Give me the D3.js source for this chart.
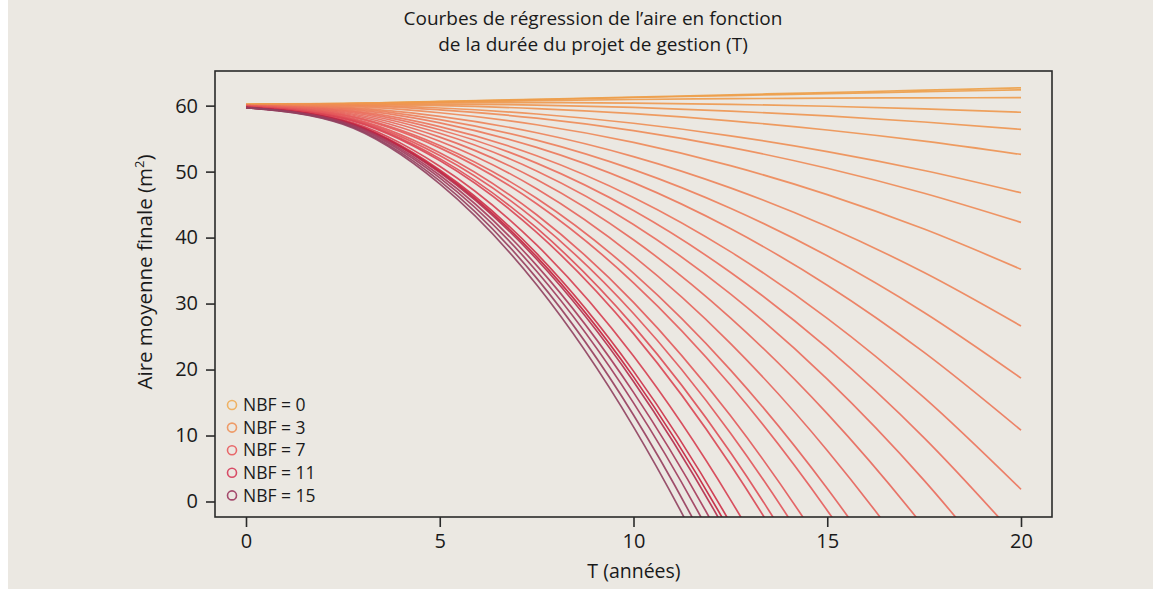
<!DOCTYPE html>
<html>
<head>
<meta charset="utf-8">
<script src="https://cdn.jsdelivr.net/npm/d3@7"></script>
<style>
  html, body { margin: 0; padding: 0; background: #ffffff; }
  svg { display: block; }
  text { font-family: "Open Sans", Lato, sans-serif; fill: #1a1a1a; }
</style>
</head>
<body>
<svg id="chart" width="1161" height="593"></svg>
<script>
// ---- data ----
const tGrid = [0, 2.5, 5, 7.5, 10, 12.5, 15, 17.5, 20];

// Aire moyenne finale (m²) read at each T of tGrid, one row per regression curve (top to bottom)
const curveValues = [
  [60.25, 60.32, 60.64, 60.97, 61.30, 61.64, 61.99, 62.34, 62.70],
  [60.2, 60.31, 60.62, 60.92, 61.23, 61.52, 61.82, 62.11, 62.40],
  [60.15, 60.29, 60.54, 60.75, 60.93, 61.05, 61.14, 61.19, 61.20],
  [60.1, 60.26, 60.41, 60.45, 60.38, 60.20, 59.91, 59.51, 59.00],
  [60.1, 60.22, 60.24, 60.08, 59.73, 59.18, 58.44, 57.52, 56.40],
  [60.05, 60.16, 60.01, 59.55, 58.78, 57.70, 56.31, 54.61, 52.60],
  [60.05, 60.07, 59.64, 58.73, 57.33, 55.43, 53.04, 50.17, 46.80],
  [60, 60.00, 59.36, 58.10, 56.20, 53.67, 50.51, 46.72, 42.30],
  [60, 59.89, 58.92, 57.10, 54.43, 50.90, 46.52, 41.29, 35.20],
  [60, 59.75, 58.38, 55.89, 52.28, 47.54, 41.68, 34.70, 26.60],
  [60, 59.63, 57.89, 54.78, 50.30, 44.45, 37.24, 28.65, 18.70],
  [60, 59.50, 57.39, 53.67, 48.33, 41.37, 32.79, 22.60, 10.80],
  [60, 59.36, 56.83, 52.41, 46.09, 37.87, 27.76, 15.75, 1.85],
  [60, 59.24, 56.34, 51.29, 44.09, 34.75, 23.27, 9.64, -6.14],
  [60, 59.11, 55.81, 50.10, 41.99, 31.47, 18.54, 3.20, -14.54],
  [59.95, 58.96, 55.23, 48.80, 39.67, 27.84, 13.32, -3.90, -23.82],
  [59.95, 58.81, 54.61, 47.40, 37.19, 23.97, 7.74, -11.49, -33.74],
  [59.9, 58.65, 53.97, 45.96, 34.63, 19.96, 1.97, -19.35, -43.99],
  [59.9, 58.56, 53.60, 45.13, 33.15, 17.66, -1.35, -23.87, -49.90],
  [59.85, 58.37, 52.86, 43.46, 30.19, 13.02, -8.02, -32.95, -61.76],
  [59.85, 58.27, 52.44, 42.52, 28.50, 10.39, -11.81, -38.11, -68.50],
  [59.8, 58.15, 51.97, 41.46, 26.62, 7.45, -16.04, -43.86, -76.02],
  [59.8, 58.07, 51.67, 40.79, 25.44, 5.60, -18.71, -47.49, -80.76],
  [59.75, 57.86, 50.82, 38.88, 22.04, 0.29, -26.36, -57.91, -94.36],
  [59.75, 57.72, 50.25, 37.60, 19.76, -3.27, -31.48, -64.88, -103.47],
  [59.7, 57.66, 50.03, 37.11, 18.89, -4.63, -33.44, -67.55, -106.96],
  [59.7, 57.62, 49.86, 36.72, 18.20, -5.71, -35.00, -69.67, -109.72],
  [59.7, 57.52, 49.45, 35.79, 16.54, -8.29, -38.72, -74.73, -116.33],
  [59.7, 57.42, 49.05, 34.89, 14.95, -10.78, -42.30, -79.61, -122.70],
  [59.7, 57.30, 48.59, 33.85, 13.10, -13.67, -46.46, -85.27, -130.10],
  [59.7, 57.19, 48.14, 32.85, 11.32, -16.46, -50.48, -90.74, -137.24]
];

const legendLabels = ["NBF = 0", "NBF = 3", "NBF = 7", "NBF = 11", "NBF = 15"];
const xTicks = [0, 5, 10, 15, 20];
const yTicks = [0, 10, 20, 30, 40, 50, 60];
const titleLines = ["Courbes de régression de l’aire en fonction", "de la durée du projet de gestion (T)"];
const xLabel = "T (années)";

// ---- layout ----
const svg = d3.select("#chart");
const plot = { left: 215, top: 71, right: 1052, bottom: 517 };

svg.append("rect").attr("x", 8).attr("y", 0).attr("width", 1145).attr("height", 589).attr("fill", "#ebe8e2");

const x = d3.scaleLinear().domain([-0.8, 20.8]).range([plot.left, plot.right]);
const y = d3.scaleLinear().domain([-2.35, 65.25]).range([plot.bottom, plot.top]);

// colours
const lineColor = d3.scaleLinear()
  .domain([0, 3, 8, 13, 20, 23, 25, 27, 30])
  .range(["#eda048", "#ee984e", "#ee8858", "#eb6e5c", "#e2545a", "#d63e50", "#c4203c", "#a6385a", "#90405f"])
  .interpolate(d3.interpolateRgb);
const legendColors = ["#efb264", "#ee9b68", "#e8686a", "#d84c66", "#a44a6c"];

// clip
svg.append("clipPath").attr("id", "clip")
  .append("rect").attr("x", plot.left).attr("y", plot.top)
  .attr("width", plot.right - plot.left).attr("height", plot.bottom - plot.top);

const line = d3.line()
  .x((d, i) => x(tGrid[i]))
  .y(d => y(d))
  .curve(d3.curveMonotoneX);

const g = svg.append("g").attr("clip-path", "url(#clip)");
g.selectAll("path.curve")
  .data(curveValues.map((v, i) => ({ v, i })))
  .join("path")
  .attr("class", "curve")
  .attr("d", d => line(d.v))
  .attr("fill", "none")
  .attr("stroke", d => lineColor(d.i))
  .attr("stroke-width", 1.7)
  .attr("stroke-opacity", 0.9);

// frame
svg.append("rect")
  .attr("x", plot.left).attr("y", plot.top)
  .attr("width", plot.right - plot.left).attr("height", plot.bottom - plot.top)
  .attr("fill", "none").attr("stroke", "#2a2a2a").attr("stroke-width", 1.6);

// axes
const xAxis = d3.axisBottom(x).tickValues(xTicks).tickSize(10).tickPadding(7);
const yAxis = d3.axisLeft(y).tickValues(yTicks).tickSize(9).tickPadding(8);

const gx = svg.append("g").attr("transform", `translate(0,${plot.bottom})`).call(xAxis);
const gy = svg.append("g").attr("transform", `translate(${plot.left},0)`).call(yAxis);
[gx, gy].forEach(a => {
  a.select(".domain").remove();
  a.selectAll(".tick line").attr("stroke", "#2a2a2a").attr("stroke-width", 1.6);
  a.selectAll(".tick text").attr("font-family", "'Open Sans', Lato, sans-serif")
    .attr("font-size", 20).attr("fill", "#1a1a1a");
});

// title
svg.append("text")
  .attr("text-anchor", "middle").attr("font-size", 19)
  .selectAll("tspan").data(titleLines).join("tspan")
  .attr("x", 593).attr("y", (d, i) => 25 + i * 26).text(d => d);

// axis labels
svg.append("text").attr("x", 634).attr("y", 578)
  .attr("text-anchor", "middle").attr("font-size", 19.5).text(xLabel);

const yl = svg.append("text")
  .attr("transform", "translate(152,272) rotate(-90)")
  .attr("text-anchor", "middle").attr("font-size", 20.5);
yl.append("tspan").text("Aire moyenne finale (m");
yl.append("tspan").attr("font-size", 13).attr("dy", -8).text("2");
yl.append("tspan").attr("dy", 8).text(")");

// legend
const lg = svg.append("g").selectAll("g").data(legendLabels).join("g")
  .attr("transform", (d, i) => `translate(232,${405 + i * 22.6})`);
lg.append("circle").attr("r", 4.5).attr("fill", "none")
  .attr("stroke", (d, i) => legendColors[i]).attr("stroke-width", 1.6);
lg.append("text").attr("x", 11).attr("dy", "0.35em").attr("font-size", 17.5).text(d => d);
</script>
</body>
</html>
